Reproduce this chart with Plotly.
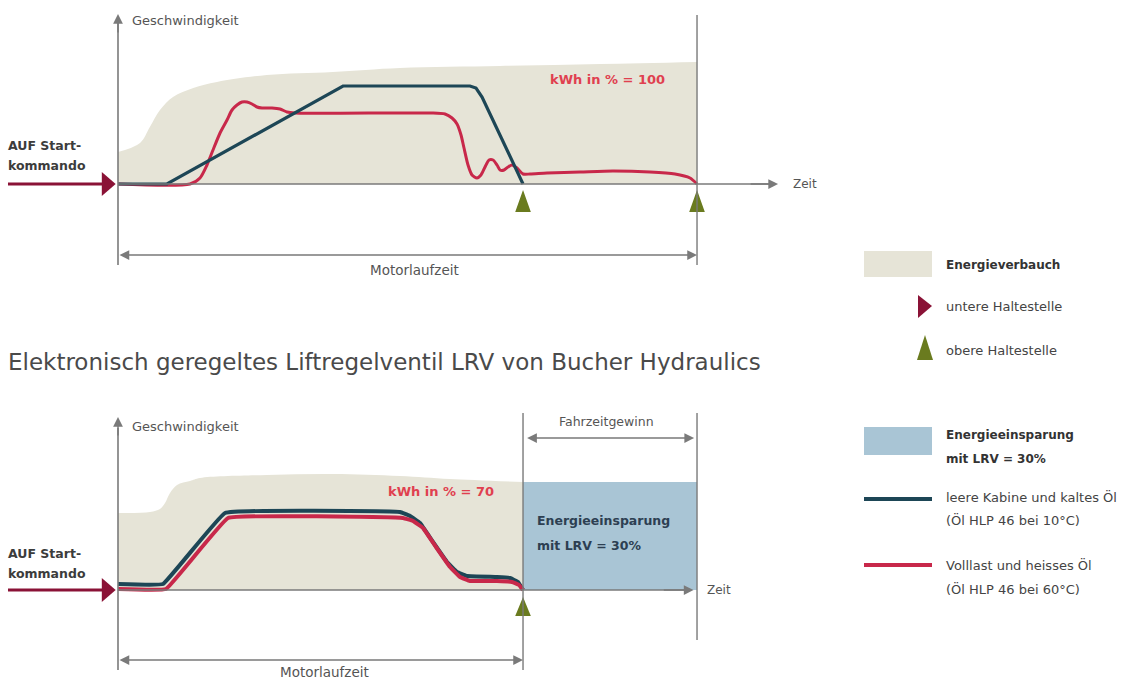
import plotly.graph_objects as go

W, H = 1134, 682
FONT = "DejaVu Sans"

# ---------------- data ----------------
# time in % of conventional motor run time, speed / energy in relative units
top_energy_t = [0, 3.8, 5.5, 7.25, 9.5, 13.0, 17.1, 25.7, 37.1, 48.7, 66.0, 83.3, 100]
top_energy_v = [0.32, 0.41, 0.57, 0.74, 0.87, 0.96, 1.02, 1.09, 1.12, 1.16, 1.18, 1.20, 1.22]

top_red_t = [0, 12.44, 14.16, 15.37, 16.41, 17.62, 18.83, 19.69, 20.55, 21.42, 22.28, 23.14,
             24.01, 24.87, 26.6, 27.98, 29.19, 30.57, 53.89, 56.48, 57.69, 58.55, 59.24, 59.76,
             60.45, 61.14, 62.0, 62.69, 63.39, 64.08, 64.77, 65.46, 65.98, 66.67, 67.36, 68.05,
             68.91, 69.95, 71.16, 74.09, 79.79, 85.49, 91.88, 96.2, 98.79, 100]
top_red_v = [0, 0, 0.06, 0.19, 0.34, 0.51, 0.64, 0.74, 0.79, 0.82, 0.82, 0.80,
             0.77, 0.76, 0.76, 0.75, 0.72, 0.71, 0.71, 0.70, 0.66, 0.60, 0.49, 0.36,
             0.19, 0.09, 0.06, 0.09, 0.17, 0.24, 0.24, 0.19, 0.14, 0.14, 0.17, 0.19,
             0.16, 0.10, 0.10, 0.11, 0.12, 0.13, 0.12, 0.10, 0.06, 0]

top_blue_t = [0, 8.46, 38.86, 60.79, 61.83, 62.87, 69.95]
top_blue_v = [0, 0, 0.98, 0.98, 0.96, 0.87, 0]

bot_energy_t = [0, 5.53, 7.25, 8.12, 8.98, 10.19, 12.44, 14.16, 25.73, 37.13, 48.7, 57.34, 69.95]
bot_energy_v = [0.77, 0.78, 0.81, 0.87, 0.97, 1.05, 1.09, 1.12, 1.15, 1.16, 1.14, 1.11, 1.08]

saving_t = [69.95, 100]
saving_v = [1.08, 1.08]

bot_blue_t = [0, 7.77, 18.48, 48.7, 50.43, 52.16, 54.4, 56.82, 58.55, 60.28, 65.46, 67.71, 69.09, 69.95]
bot_blue_v = [0.06, 0.06, 0.77, 0.78, 0.74, 0.67, 0.48, 0.28, 0.18, 0.14, 0.13, 0.12, 0.08, 0.0]

bot_red_t = [0, 8.29, 19.0, 49.22, 50.95, 52.68, 54.92, 57.34, 59.07, 60.79, 65.46, 68.05, 69.26, 69.95]
bot_red_v = [0.01, 0.01, 0.72, 0.72, 0.69, 0.62, 0.43, 0.23, 0.13, 0.09, 0.09, 0.08, 0.05, 0.0]

top_stops = [69.95, 100]
bot_stops = [69.95]
start_time = 0

top_kwh_label = "kWh in % = 100"
bot_kwh_label = "kWh in % = 70"

# ---------------- styles ----------------
BEIGE = "#e6e4d7"
SKY = "#a9c5d5"
TEAL = "#1d4656"
RED = "#c8284a"
DARKRED = "#8a1236"
OLIVE = "#6a7b1f"
GREY = "#7a7a7a"
TXT = "#555555"
KWH = "#e0404f"

XR = [-20.38, 175.47]          # 5.79 px per time unit
TOP_YR = [-1.16, 1.84]         # 100 px per speed unit
BOT_YR = [-0.92, 2.10]

fig = go.Figure()

# top panel energy
fig.add_trace(go.Scatter(x=top_energy_t, y=top_energy_v, fill="tozeroy", fillcolor=BEIGE,
                         mode="lines", line=dict(width=0, color=BEIGE, shape="spline"),
                         xaxis="x", yaxis="y", showlegend=False))
# bottom panel energy + saving
fig.add_trace(go.Scatter(x=bot_energy_t, y=bot_energy_v, fill="tozeroy", fillcolor=BEIGE,
                         mode="lines", line=dict(width=0, color=BEIGE, shape="spline"),
                         xaxis="x2", yaxis="y2", showlegend=False))
fig.add_trace(go.Scatter(x=saving_t, y=saving_v, fill="tozeroy", fillcolor=SKY,
                         mode="lines", line=dict(width=0, color=SKY),
                         xaxis="x2", yaxis="y2", showlegend=False))

# axis lines (drawn as shapes in data coordinates)
for xa, ya, y0, y1, xend in [("x", "y", -0.81, 1.62, 113.0), ("x2", "y2", -0.80, 1.62, 98.5)]:
    fig.add_shape(type="line", xref=xa, yref=ya, x0=0, x1=xend, y0=0, y1=0,
                  line=dict(color=GREY, width=1.6))
    fig.add_shape(type="line", xref=xa, yref=ya, x0=0, x1=0, y0=y0, y1=y1,
                  line=dict(color=GREY, width=1.6))

# vertical guide lines
fig.add_shape(type="line", xref="x", yref="y", x0=100, x1=100, y0=-0.81, y1=1.69,
              line=dict(color=GREY, width=1.4))
fig.add_shape(type="line", xref="x2", yref="y2", x0=69.95, x1=69.95, y0=-0.80, y1=1.77,
              line=dict(color=GREY, width=1.4))
fig.add_shape(type="line", xref="x2", yref="y2", x0=100, x1=100, y0=-0.50, y1=1.77,
              line=dict(color=GREY, width=1.4))

# curves
fig.add_trace(go.Scatter(x=top_red_t, y=top_red_v, mode="lines",
                         line=dict(color=RED, width=3, shape="spline", smoothing=0.7),
                         xaxis="x", yaxis="y", showlegend=False))
fig.add_trace(go.Scatter(x=top_blue_t, y=top_blue_v, mode="lines",
                         line=dict(color=TEAL, width=3.2),
                         xaxis="x", yaxis="y", showlegend=False))
fig.add_trace(go.Scatter(x=bot_blue_t, y=bot_blue_v, mode="lines",
                         line=dict(color=TEAL, width=4, shape="spline", smoothing=0.2),
                         xaxis="x2", yaxis="y2", showlegend=False))
fig.add_trace(go.Scatter(x=bot_red_t, y=bot_red_v, mode="lines",
                         line=dict(color=RED, width=4, shape="spline", smoothing=0.2),
                         xaxis="x2", yaxis="y2", showlegend=False))

# stop markers (tall triangles) and start arrows
HW_T = 1.35     # half width of stop triangle in time units
def stop_tri(stops, tip, base):
    xs, ys = [], []
    for s in stops:
        xs += [s - HW_T, s + HW_T, s, s - HW_T, None]
        ys += [base, base, tip, base, None]
    return xs, ys

for stops, xa, ya, tip, base in [(top_stops, "x", "y", -0.06, -0.28),
                                 (bot_stops, "x2", "y2", -0.07, -0.26)]:
    xs, ys = stop_tri(stops, tip, base)
    fig.add_trace(go.Scatter(x=xs, y=ys, mode="lines", fill="toself", fillcolor=OLIVE,
                             line=dict(width=0, color=OLIVE), xaxis=xa, yaxis=ya,
                             showlegend=False))

for xa, ya in [("x", "y"), ("x2", "y2")]:
    fig.add_trace(go.Scatter(x=[start_time - 19.0, start_time - 2.3], y=[0, 0], mode="lines",
                             line=dict(color=DARKRED, width=3.2), xaxis=xa, yaxis=ya,
                             showlegend=False))
    fig.add_trace(go.Scatter(x=[start_time - 2.8, start_time - 0.4, start_time - 2.8, start_time - 2.8],
                             y=[0.12, 0, -0.12, 0.12], mode="lines", fill="toself",
                             fillcolor=DARKRED, line=dict(width=0, color=DARKRED),
                             xaxis=xa, yaxis=ya, showlegend=False))

# ---------------- annotations ----------------
ann = []
def arrow(xa, ya, x, y, axv, ayv, both=False):
    ann.append(dict(xref=xa, yref=ya, axref=xa, ayref=ya, x=x, y=y, ax=axv, ay=ayv, text="",
                    showarrow=True, arrowhead=2, arrowsize=1.3, arrowwidth=1.5,
                    arrowcolor=GREY, arrowside="end+start" if both else "end"))

def text(xref, yref, x, y, t, size=12, color=TXT, xanchor="left", bold=False):
    ann.append(dict(xref=xref, yref=yref, x=x, y=y, text=("<b>%s</b>" % t) if bold else t,
                    showarrow=False, xanchor=xanchor, yanchor="middle",
                    font=dict(family=FONT, size=size, color=color)))

# axis arrowheads
arrow("x", "y", 0, 1.70, 0, 1.50)
arrow("x", "y", 114.0, 0, 109.0, 0)
arrow("x2", "y2", 0, 1.73, 0, 1.53)
arrow("x2", "y2", 99.4, 0, 94.0, 0)
# Motorlaufzeit / Fahrzeitgewinn
arrow("x", "y", 100, -0.71, 0, -0.71, both=True)
arrow("x2", "y2", 69.95, -0.70, 0, -0.70, both=True)
arrow("x2", "y2", 99.5, 1.52, 70.4, 1.52, both=True)

text("x", "y", 2.1, 1.64, "Geschwindigkeit", 13)
text("x2", "y2", 2.1, 1.63, "Geschwindigkeit", 13)
text("x", "y", 116.2, 0, "Zeit", 12)
text("x2", "y2", 101.4, 0, "Zeit", 12)
text("x", "y", 51.2, -0.86, "Motorlaufzeit", 13.5, xanchor="center")
text("x2", "y2", 35.6, -0.82, "Motorlaufzeit", 13.5, xanchor="center")
text("x2", "y2", 84.3, 1.68, "Fahrzeitgewinn", 12.5, xanchor="center")
text("x", "y", 84.6, 1.05, top_kwh_label, 13, KWH, "center", True)
text("x2", "y2", 55.8, 0.98, bot_kwh_label, 13, KWH, "center", True)
text("x2", "y2", 72.0, 0.70, "Energieeinsparung", 12.5, "#2d3f52", bold=True)
text("x2", "y2", 72.0, 0.45, "mit LRV = 30%", 12.5, "#2d3f52", bold=True)

def PX(v): return v / W
def PY(v): return 1 - v / H

for y0, lines in [(145, "AUF Start-"), (165, "kommando"), (553, "AUF Start-"), (573, "kommando")]:
    text("paper", "paper", PX(6), PY(y0), lines, 12.5, "#3c3c3c", bold=True)

text("paper", "paper", PX(6), PY(362), "Elektronisch geregeltes Liftregelventil LRV von Bucher Hydraulics",
     23, "#4a4a4a")

# legend
fig.add_shape(type="rect", xref="paper", yref="paper", x0=PX(864), x1=PX(932), y0=PY(251), y1=PY(277),
              fillcolor=BEIGE, line=dict(width=0))
fig.add_shape(type="rect", xref="paper", yref="paper", x0=PX(864), x1=PX(932), y0=PY(427), y1=PY(455),
              fillcolor=SKY, line=dict(width=0))
fig.add_shape(type="line", xref="paper", yref="paper", x0=PX(864), x1=PX(932), y0=PY(499), y1=PY(499),
              line=dict(color=TEAL, width=4))
fig.add_shape(type="line", xref="paper", yref="paper", x0=PX(864), x1=PX(932), y0=PY(565), y1=PY(565),
              line=dict(color=RED, width=4))
fig.add_shape(type="path", xref="paper", yref="paper",
              path="M %f,%f L %f,%f L %f,%f Z" % (PX(918), PY(295), PX(932), PY(306), PX(918), PY(318)),
              fillcolor=DARKRED, line=dict(width=0))
fig.add_shape(type="path", xref="paper", yref="paper",
              path="M %f,%f L %f,%f L %f,%f Z" % (PX(917), PY(360), PX(925), PY(335), PX(933), PY(360)),
              fillcolor=OLIVE, line=dict(width=0))

text("paper", "paper", PX(944), PY(265), "Energieverbauch", 12, "#333333", bold=True)
text("paper", "paper", PX(944), PY(306), "untere Haltestelle", 13, "#444444")
text("paper", "paper", PX(944), PY(350), "obere Haltestelle", 13, "#444444")
text("paper", "paper", PX(944), PY(435), "Energieeinsparung", 12, "#333333", bold=True)
text("paper", "paper", PX(944), PY(459), "mit LRV = 30%", 12, "#333333", bold=True)
text("paper", "paper", PX(944), PY(497), "leere Kabine und kaltes Öl", 13, "#444444")
text("paper", "paper", PX(944), PY(520), "(Öl HLP 46 bei 10°C)", 13, "#444444")
text("paper", "paper", PX(944), PY(565), "Volllast und heisses Öl", 13, "#444444")
text("paper", "paper", PX(944), PY(589), "(Öl HLP 46 bei 60°C)", 13, "#444444")

axis_common = dict(visible=False, showgrid=False, zeroline=False, fixedrange=True)
fig.update_layout(
    width=W, height=H, margin=dict(l=0, r=0, t=0, b=0),
    paper_bgcolor="white", plot_bgcolor="white", showlegend=False,
    xaxis=dict(domain=[0, 1], range=XR, anchor="y", **axis_common),
    yaxis=dict(domain=[1 - 300 / H, 1], range=TOP_YR, anchor="x", **axis_common),
    xaxis2=dict(domain=[0, 1], range=XR, anchor="y2", **axis_common),
    yaxis2=dict(domain=[0, 302 / H], range=BOT_YR, anchor="x2", **axis_common),
    annotations=ann,
    font=dict(family=FONT),
)

fig.write_html("out.html", config={"displayModeBar": False},
               post_script="document.body.style.margin='0';document.body.style.overflow='hidden';")
